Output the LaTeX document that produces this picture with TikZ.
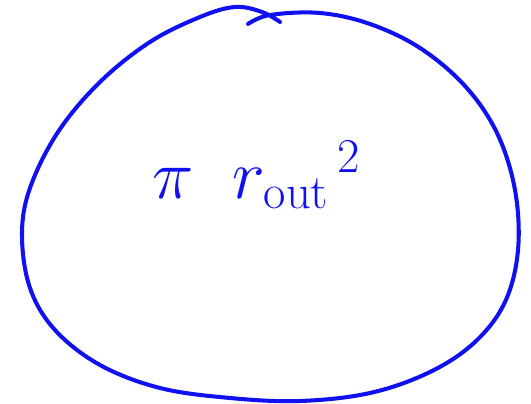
\documentclass[tikz,border=0pt]{standalone}
\usepackage{amsmath}
\usepackage{tikz}
\definecolor{inkblue}{HTML}{1010F0}
\tikzset{
  ink/.style={draw=inkblue, line width=2.3pt, line cap=round, line join=round},
  inktext/.style={text=inkblue, font=\fontsize{24}{26}\selectfont, scale=1.6, transform shape}
}
\begin{document}
\begin{tikzpicture}[x=0.02cm,y=-0.02cm]
  \useasboundingbox (0,0) rectangle (531,404);
  % hand-drawn outline, its two ends cross at the top
  \draw[ink] plot[smooth, tension=0.6] coordinates {
    (248,24) (270,15) (320,13) (370,24) (420,48) (465,86) (497,133)
    (515,190) (518,250) (505,302) (475,342) (430,372) (370,393)
    (300,401) (230,398) (160,388) (100,365) (55,330) (30,288)
    (22,235) (30,188) (58,132) (100,82) (150,42) (200,17) (235,7)
    (262,12) (280,22)};
  \node[inktext] (area) at (257,175) {$\pi\;\; r_{\mathrm{out}}{}^{\,2}$};
\end{tikzpicture}
\end{document}
